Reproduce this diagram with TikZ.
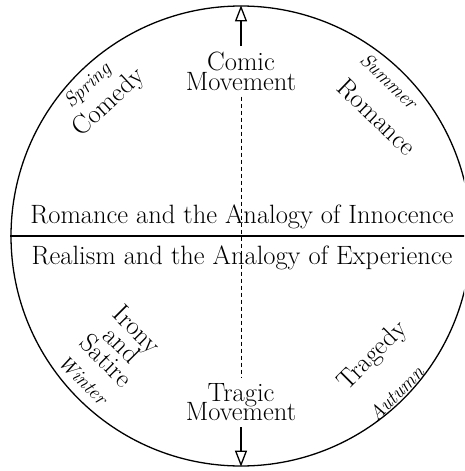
\documentclass[tikz,border=0pt]{standalone}
\usepackage{tikz}
\usetikzlibrary{arrows.meta}
\newcommand{\wheelfont}{\fontsize{26.5}{19.5}\selectfont\lineskiplimit=-30pt}
\newcommand{\genrefont}{\fontsize{26.5}{22}\selectfont\lineskiplimit=-30pt}
\newcommand{\seasonfont}{\fontsize{20}{20}\selectfont\itshape}
\tikzset{
  wheel/.style={circle, draw=black, line width=1.3pt, minimum size=460pt, inner sep=0pt},
  genre/.style={align=center, inner sep=0pt, font=\genrefont},
  season/.style={inner sep=0pt, font=\seasonfont},
  movement/.style={align=center, inner sep=6pt, font=\wheelfont},
  band/.style={anchor=base, inner sep=0pt, font=\wheelfont},
  axisarrow/.style={-{Triangle[open, length=16pt, width=12pt, line width=1.3pt]}, line width=2.8pt},
  axisline/.style={dash pattern=on 4pt off 3pt, line width=0.8pt},
  divider/.style={line width=2pt}
}
\begin{document}
\begin{tikzpicture}[x=1pt, y=-1pt]
\useasboundingbox (0,0) rectangle (464,471);
\clip (0,0) rectangle (464,471);
\node[wheel] (wheel) at (241,236) {};
\draw[divider] (wheel.west) -- (wheel.east);
\node[band] (innocence) at (242,223) {Romance and the Analogy of Innocence};
\node[band] (experience) at (242,264) {Realism and the Analogy of Experience};
% the two movements on the vertical axis
\node[movement, anchor=north] (comic) at (241,46) {Comic\\Movement};
\node[movement, anchor=south] (tragic) at (241,427) {Tragic\\Movement};
\draw[axisarrow] (comic) -- (wheel.north);
\draw[axisarrow] (tragic) -- (wheel.south);
\draw[axisline] (comic) -- (tragic);
% genres and seasons
\node[genre, rotate=43] (comedy) at (109,103) {Comedy};
\node[season, rotate=43] (spring) at (88,86) {Spring};
\node[genre, rotate=-44] (romance) at (377,117) {Romance};
\node[season, rotate=-44] (summer) at (389,81) {Summer};
\node[genre, rotate=-45] (irony) at (122,345) {Irony\\and\\Satire};
\node[season, rotate=-45] (winter) at (83,380) {Winter};
\node[genre, rotate=45] (tragedy) at (373,356) {Tragedy};
\node[season, rotate=45] (autumn) at (396,393) {Autumn};
\end{tikzpicture}
\end{document}
